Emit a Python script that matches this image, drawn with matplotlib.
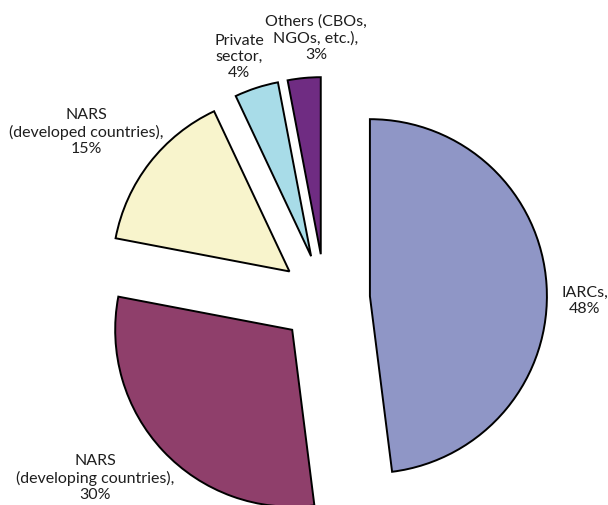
import matplotlib.pyplot as plt

# Share of partners by type
categories = ["IARCs", "NARS\n(developing countries)", "NARS\n(developed countries)",
              "Private\nsector", "Others (CBOs,\nNGOs, etc.)"]
shares = [48, 30, 15, 4, 3]
colors = ["#8f96c6", "#8f3f6b", "#f8f4cc", "#a8dce8", "#6f2c82"]

# Label anchor points in figure pixels (x, y from top)
label_pos = [(585, 301), (95, 478), (86, 132), (239, 57), (316, 38)]

W, H = 608, 506
fig = plt.figure(figsize=(W / 100, H / 100), dpi=100)
ax = fig.add_axes([0, 0, 1, 1])

# explode is in data units (pixels here)
wedges, _ = ax.pie(shares, colors=colors, startangle=90, counterclock=False,
                   explode=[45] * len(shares), center=(325, H - 300), radius=177,
                   wedgeprops=dict(edgecolor="black", linewidth=1.4))

for cat, val, (lx, ly) in zip(categories, shares, label_pos):
    ax.text(lx, H - ly, f"{cat},\n{val}%", ha="center", va="center",
            fontsize=11.5, family="Lato", color="#1e1e1e", linespacing=1.2)

ax.set_xlim(0, W)
ax.set_ylim(0, H)
ax.set_aspect("equal")
ax.axis("off")

fig.savefig("out.png", dpi=100)
